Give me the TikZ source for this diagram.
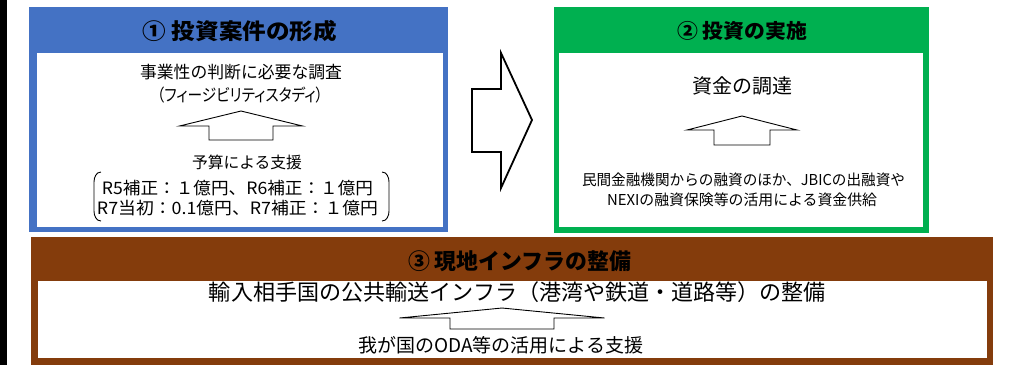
\documentclass[tikz,border=0pt]{standalone}
\usepackage{fontspec}
\usepackage{graphicx}
\newfontfamily\jp{Noto Sans CJK JP}
\newfontfamily\jpp{Noto Sans CJK JP}[RawFeature=+palt]
\definecolor{cblue}{HTML}{4472C4}
\definecolor{cgreen}{HTML}{00B050}
\definecolor{cbrown}{HTML}{843C0C}
\newcommand\fs[1]{\fontsize{#1}{#1}\selectfont}
\newcommand\fw[2]{\resizebox{#1pt}{\height}{#2}}
\begin{document}
\begin{tikzpicture}[x=1pt,y=-1pt,
  panel/.style={rectangle, inner sep=0pt, outer sep=0pt, anchor=north west},
  head/.style={inner sep=0pt, text=black},
  txt/.style={inner sep=0pt, text=black, align=center},
  thinarrow/.style={draw=black, line width=0.9pt, fill=white, line join=miter},
  bigarrow/.style={draw=black, line width=1.8pt, fill=white, line join=miter},
  paren/.style={draw=black, line width=0.9pt}]
\useasboundingbox (0,0) rectangle (1009,365);
% left black bar
\fill[black] (0,0) rectangle (7,365);
% panel 1
\node[panel, fill=cblue, minimum width=419pt, minimum height=225pt] (b1) at (29,7) {};
\node[panel, fill=white, minimum width=406pt, minimum height=174pt] (b1in) at (37,53) {};
\node[head, font=\jp\bfseries\fs{22}] (h1) at (240,31) {\fw{194}{① 投資案件の形成}};
% panel 2
\node[panel, fill=cgreen, minimum width=375pt, minimum height=226pt] (b2) at (554,7) {};
\node[panel, fill=white, minimum width=364pt, minimum height=174pt] (b2in) at (559,53) {};
\node[head, font=\jp\bfseries\fs{20}] (h2) at (742,31) {\fw{130}{② 投資の実施}};
% panel 3
\node[panel, fill=cbrown, minimum width=962pt, minimum height=128pt] (b3) at (31,237) {};
\node[panel, fill=white, minimum width=949pt, minimum height=77pt] (b3in) at (38,281) {};
\node[head, font=\jp\bfseries\fs{22}] (h3) at (519.5,261) {\fw{223}{③ 現地インフラの整備}};
% big arrow between panels 1 and 2
\draw[bigarrow] (472,89) -- (501,89) -- (501,53) -- (532,120) -- (501,188) -- (501,152) -- (472,152) -- cycle;
% panel 1 content
\node[txt, font=\jp\fs{17}] (t1a) at (241,72) {\fw{202}{事業性の判断に必要な調査}};
\node[txt, font=\jpp\fs{17}] (t1b) at (240,95) {\fw{166}{（フィージビリティスタディ）}};
\coordinate (a1) at (241,111);
\draw[thinarrow] (a1) -- ++(61.5,15) -- ++(-29.5,0) -- ++(0,14) -- ++(-64,0) -- ++(0,-14) -- ++(-29.5,0) -- cycle;
\node[txt, font=\jp\fs{16}] (t1c) at (247,162) {\fw{110}{予算による支援}};
\node[txt, font=\jp\fs{17}] (t1d) at (237.5,188) {\fw{271}{R5補正：１億円、R6補正：１億円}};
\node[txt, font=\jp\fs{17}] (t1e) at (237.5,208) {\fw{281}{R7当初：0.1億円、R7補正：１億円}};
\draw[paren] (101,172) to[out=180,in=90] (94,182) -- (94,211) to[out=-90,in=180] (101,221);
\draw[paren] (382,172) to[out=0,in=90] (389,182) -- (389,211) to[out=-90,in=0] (382,221);
% panel 2 content
\node[txt, font=\jp\fs{20}] (t2a) at (742,86) {\fw{100}{資金の調達}};
\coordinate (a2) at (742,116);
\draw[thinarrow] (a2) -- ++(55,14) -- ++(-27,0) -- ++(0,15) -- ++(-56,0) -- ++(0,-15) -- ++(-27,0) -- cycle;
\node[txt, font=\jp\fs{15}] (t2b) at (743.5,180) {\fw{323}{民間金融機関からの融資のほか、JBICの出融資や}};
\node[txt, font=\jp\fs{15}] (t2c) at (742,200) {\fw{270}{NEXIの融資保険等の活用による資金供給}};
% panel 3 content
\node[txt, font=\jp\fs{22}] (t3a) at (517.5,292) {\fw{617}{輸入相手国の公共輸送インフラ（港湾や鉄道・道路等）の整備}};
\coordinate (a3) at (502,308);
\draw[thinarrow] (a3) -- ++(102.5,10) -- ++(-50.5,0) -- ++(0,11) -- ++(-104,0) -- ++(0,-11) -- ++(-50.5,0) -- cycle;
\node[txt, font=\jp\fs{19}] (t3b) at (500.5,345) {\fw{285}{我が国のODA等の活用による支援}};
\end{tikzpicture}
\end{document}
